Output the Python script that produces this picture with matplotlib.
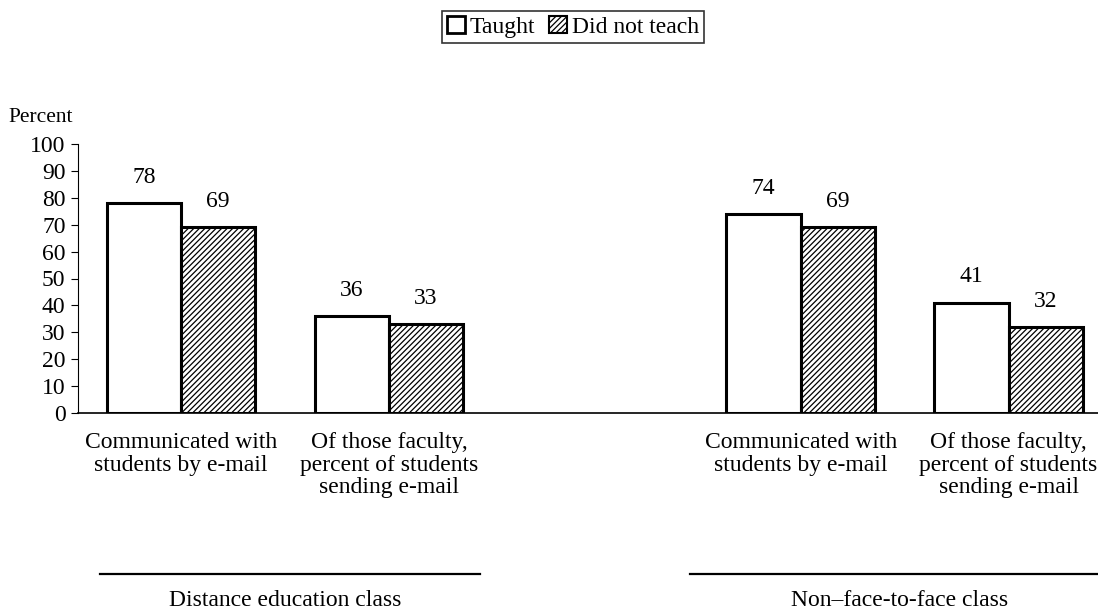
import numpy as np
import matplotlib
matplotlib.use("Agg")
import matplotlib.pyplot as plt
from matplotlib.patches import Patch

plt.rcParams['font.family'] = ['Liberation Serif', 'DejaVu Serif']
plt.rcParams['hatch.linewidth'] = 0.9

# data
categories = [
    "Communicated with\nstudents by e-mail",
    "Of those faculty,\npercent of students\nsending e-mail",
    "Communicated with\nstudents by e-mail",
    "Of those faculty,\npercent of students\nsending e-mail",
]
groups = ["Distance education class", "Non\u2013face-to-face class"]
taught = [78, 36, 74, 41]
did_not_teach = [69, 33, 69, 32]
series_names = ["Taught", "Did not teach"]

FS = 17
positions = np.array([0, 1, 2.98, 3.98])
width = 0.357

fig = plt.figure(figsize=(10.98, 6.12), dpi=100)
ax = fig.add_axes([78 / 1098, 1 - 413 / 612, 1 - 78 / 1098, (413 - 144) / 612])

b1 = ax.bar(positions - width / 2, taught, width, color="white",
            edgecolor="black", linewidth=2.2)
b2 = ax.bar(positions + width / 2, did_not_teach, width, color="white",
            edgecolor="black", linewidth=2.2, hatch="//////")

for bars, vals in ((b1, taught), (b2, did_not_teach)):
    for rect, v in zip(bars, vals):
        ax.annotate(str(v), (rect.get_x() + rect.get_width() / 2, v),
                    xytext=(0, 11), textcoords="offset points",
                    ha="center", va="bottom", fontsize=FS)

ax.set_xlim(-0.495, 4.41)
ax.set_ylim(0, 100)
ax.set_yticks(range(0, 101, 10))
ax.tick_params(axis="y", labelsize=FS, length=5, width=0.8, pad=4)
ax.set_xticks([])
for s in ("top", "right"):
    ax.spines[s].set_visible(False)
ax.spines["left"].set_linewidth(0.8)
ax.spines["bottom"].set_linewidth(1.2)

fig.text(8 / 1098, 1 - 118 / 612, "Percent", ha="left", va="center",
         fontsize=15.5)

# category labels under each bar pair
for p, lab in zip(positions, categories):
    ax.annotate(lab, (p, 0), xytext=(0, -14), textcoords="offset points",
                ha="center", va="top", fontsize=FS, linespacing=1.08,
                annotation_clip=False)

# group rules and labels (figure fractions)
group_spans = [(100, 480), (690, 1098)]
label_x = [285, 900]
for (x0, x1), lx, g in zip(group_spans, label_x, groups):
    fig.add_artist(plt.Line2D([x0 / 1098, x1 / 1098], [1 - 574 / 612] * 2,
                              color="black", linewidth=1.6))
    fig.text(lx / 1098, 1 - 600 / 612, g, ha="center",
             va="center", fontsize=FS)

handles = [Patch(facecolor="white", edgecolor="black", linewidth=2),
           Patch(facecolor="white", edgecolor="black", linewidth=1.5,
                 hatch="//////")]
leg = fig.legend(handles, series_names, loc="center",
                 bbox_to_anchor=(573 / 1098, 1 - 27 / 612), ncol=2,
                 fontsize=FS, frameon=True, fancybox=False,
                 handlelength=0.75, handleheight=0.75, handletextpad=0.2,
                 columnspacing=0.6, borderpad=0.2, edgecolor="black")
leg.get_frame().set_linewidth(1.2)

fig.savefig("out.png", dpi=100)
